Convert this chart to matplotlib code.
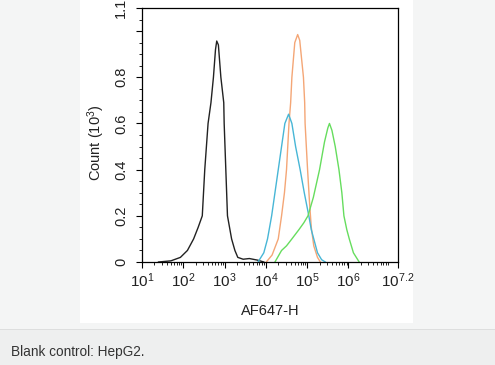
import matplotlib
matplotlib.use("Agg")
import matplotlib.pyplot as plt
import numpy as np
from matplotlib.patches import Rectangle
from matplotlib.ticker import LogLocator, MultipleLocator, NullFormatter

plt.rcParams['font.family'] = ['Liberation Sans', 'DejaVu Sans']
plt.rcParams['mathtext.fontset'] = 'custom'
plt.rcParams['mathtext.rm'] = 'Liberation Sans'
plt.rcParams['mathtext.it'] = 'Liberation Sans'

# log10 of fluorescence, count (10^3)
black_x = [1.40, 1.70, 1.93, 2.10, 2.25, 2.36, 2.46, 2.52, 2.60, 2.67, 2.73, 2.78, 2.81, 2.85,
           2.91, 2.98, 2.99, 3.03, 3.07, 3.12, 3.17, 3.25, 3.32, 3.45, 3.60, 3.80, 3.95]
black_y = [0.00, 0.005, 0.02, 0.05, 0.10, 0.15, 0.20, 0.40, 0.60, 0.69, 0.80, 0.92, 0.957, 0.94,
           0.80, 0.69, 0.60, 0.40, 0.20, 0.15, 0.10, 0.05, 0.02, 0.012, 0.015, 0.008, 0.00]

orange_x = [4.01, 4.15, 4.30, 4.38, 4.45, 4.50, 4.56, 4.60, 4.63, 4.70, 4.77, 4.82, 4.91,
            4.94, 4.95, 5.01, 5.06, 5.10, 5.16, 5.25, 5.32]
orange_y = [0.00, 0.03, 0.10, 0.20, 0.30, 0.40, 0.60, 0.69, 0.80, 0.95, 0.985, 0.96, 0.80,
            0.69, 0.60, 0.40, 0.25, 0.15, 0.07, 0.02, 0.00]

blue_x = [3.81, 3.95, 4.04, 4.14, 4.22, 4.30, 4.38, 4.46, 4.55, 4.63, 4.72, 4.83, 4.93,
          5.04, 5.10, 5.16, 5.25, 5.35, 5.44]
blue_y = [0.00, 0.04, 0.10, 0.20, 0.30, 0.40, 0.50, 0.60, 0.64, 0.60, 0.50, 0.40, 0.30,
          0.20, 0.14, 0.10, 0.04, 0.01, 0.00]

green_x = [4.22, 4.38, 4.50, 4.63, 4.80, 4.92, 5.02, 5.15, 5.30, 5.42, 5.50, 5.54, 5.60,
           5.68, 5.77, 5.84, 5.89, 5.96, 6.02, 6.12, 6.26]
green_y = [0.00, 0.05, 0.07, 0.10, 0.14, 0.17, 0.20, 0.28, 0.40, 0.52, 0.58, 0.60, 0.57,
           0.50, 0.40, 0.30, 0.20, 0.14, 0.10, 0.04, 0.00]

series = [
    (black_x, black_y, '#222222'),
    (orange_x, orange_y, '#f4a676'),
    (blue_x, blue_y, '#47b6d6'),
    (green_x, green_y, '#66dd5e'),
]

x_ticks = [1, 2, 3, 4, 5, 6, 7.2]
x_tick_labels = ['$10^{1}$', '$10^{2}$', '$10^{3}$', '$10^{4}$', '$10^{5}$', '$10^{6}$', '$10^{7.2}$']
y_ticks = [0, 0.2, 0.4, 0.6, 0.8, 1.0, 1.1]
y_tick_labels = ['0', '0.2', '0.4', '0.6', '0.8', '', '1.1']

fig = plt.figure(figsize=(4.95, 3.65), dpi=100)
fig.patch.set_facecolor('#eeefef')
W, H = 495, 365
# page background, separator line and white image panel
fig.patches.append(Rectangle((0, (H - 329) / H), 1, 329 / H, transform=fig.transFigure,
                             facecolor='#f4f5f5', edgecolor='none', zorder=-3))
fig.patches.append(Rectangle((0, (H - 330) / H), 1, 1 / H, transform=fig.transFigure,
                             facecolor='#dddede', edgecolor='none', zorder=-3))
fig.patches.append(Rectangle((80 / W, (H - 323) / H), 333 / W, 323 / H, transform=fig.transFigure,
                             facecolor='white', edgecolor='none', zorder=-2))

ax = fig.add_axes([142 / W, (H - 262) / H, 256 / W, 254 / H])
ax.set_facecolor('white')

for xs, ys, c in series:
    ax.plot(10 ** np.array(xs), ys, color=c, lw=1.0)

ax.set_xscale('log')
ax.set_xlim(10 ** 1, 10 ** 7.2)
ax.set_ylim(0, 1.1)
ax.set_xticks([10 ** v for v in x_ticks])
ax.set_xticklabels(x_tick_labels, fontsize=11, color='#222222')
ax.xaxis.set_minor_locator(LogLocator(base=10, subs=np.arange(2, 10), numticks=20))
ax.xaxis.set_minor_formatter(NullFormatter())
ax.set_yticks(y_ticks)
ax.set_yticklabels(y_tick_labels, fontsize=10.5, rotation=90, va='center', color='#222222')
ax.yaxis.set_minor_locator(MultipleLocator(0.05))
ax.tick_params(which='major', length=4, width=0.8, color='black')
ax.tick_params(which='minor', length=2, width=0.6)
ax.tick_params(axis='x', pad=3)
ax.tick_params(axis='y', pad=6)
for s in ax.spines.values():
    s.set_linewidth(0.9)

ax.set_xlabel('AF647-H', fontsize=10.5, color='#222222')
ax.xaxis.set_label_coords(0.5, -0.165)
ax.set_ylabel('Count (10$^{3}$)', fontsize=10.5, color='#222222')
ax.yaxis.set_label_coords(-0.135, 0.47)

fig.text(11 / W, (H - 352) / H, 'Blank control: HepG2.', fontsize=9.8, color='#333333',
         va='center', ha='left')

fig.savefig('out.png', dpi=100, facecolor=fig.get_facecolor())
